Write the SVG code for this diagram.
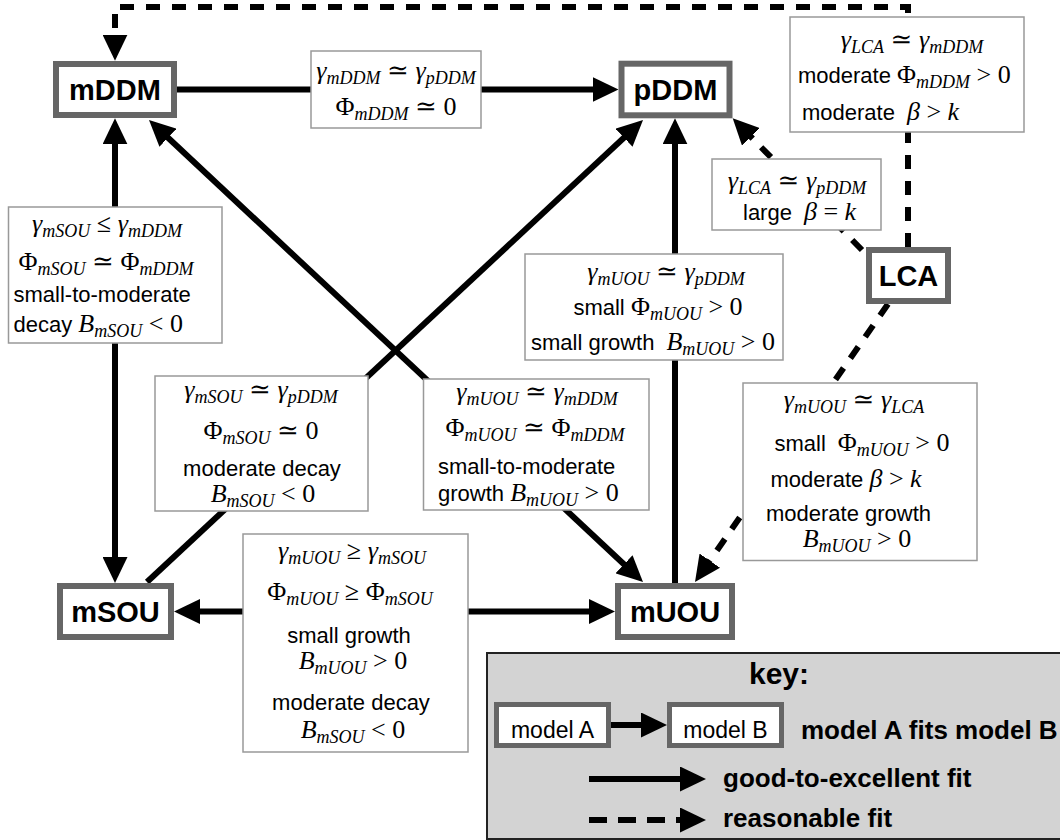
<svg xmlns="http://www.w3.org/2000/svg" width="1060" height="840" viewBox="0 0 1060 840">
<style>
.node rect{fill:#fff;stroke:#666;stroke-width:6}
.node text{font-family:"Liberation Sans",Arial,sans-serif;font-weight:bold;font-size:29px;text-anchor:middle;fill:#000}
.lbl rect{fill:#fff;stroke:#999;stroke-width:1.5}
.lbl text{fill:#000}
.m{font-family:"Liberation Serif","DejaVu Serif",serif;font-size:26px}
.c{text-anchor:middle}
.i{font-style:italic}
.s{font-style:italic;font-size:18px}
.t{font-family:"Liberation Sans",Arial,sans-serif;font-size:22px;font-style:normal}
.conn path{fill:none;stroke:#000;stroke-width:6}
.conn .d{stroke-dasharray:14 12}
.key rect.bg{fill:#d3d3d3;stroke:#222;stroke-width:2}
.key rect.kn{fill:#fff;stroke:#666;stroke-width:5}
.key text{font-family:"Liberation Sans",Arial,sans-serif;fill:#000}
.key path{fill:none;stroke:#000;stroke-width:6}
</style>
<defs>
<marker id="ah" markerUnits="userSpaceOnUse" markerWidth="26" markerHeight="25" refX="16" refY="12.5" orient="auto-start-reverse">
<path d="M0,0 L26,12.5 L0,25 Z" fill="#000"/>
</marker>
</defs>

<g id="connectors" class="conn">
<path d="M177,89.5 H608.5" marker-end="url(#ah)"/>
<path d="M115,128.3 V573" marker-start="url(#ah)" marker-end="url(#ah)"/>
<path d="M184,611.5 H605" marker-start="url(#ah)" marker-end="url(#ah)"/>
<path d="M156.3,126.8 L635.7,575.2" marker-start="url(#ah)" marker-end="url(#ah)"/>
<path d="M147,582 L635.7,126.8" marker-end="url(#ah)"/>
<path d="M675,583 V128.3" marker-end="url(#ah)"/>
<path class="d" d="M862,250 L739.7,125.4" marker-end="url(#ah)"/>
<path class="d" d="M888,304 L700.7,573.8" marker-end="url(#ah)"/>
<path class="d" d="M908,247 V7 H115 V50.7" marker-end="url(#ah)"/>
</g>

<g id="label-mDDM-pDDM" class="lbl">
<rect x="311" y="51" width="170" height="77"/>
<text class="m c" x="396" y="79"><tspan class="i">γ</tspan><tspan class="s" dy="5">mDDM</tspan><tspan dy="-5"> ≃ </tspan><tspan class="i">γ</tspan><tspan class="s" dy="5">pDDM</tspan></text>
<text class="m c" x="396" y="115">Φ<tspan class="s" dy="5">mDDM</tspan><tspan dy="-5"> ≃ 0</tspan></text>
</g>

<g id="label-LCA-mDDM" class="lbl">
<rect x="790" y="17" width="234" height="115"/>
<text class="m c" x="912" y="48"><tspan class="i">γ</tspan><tspan class="s" dy="5">LCA</tspan><tspan dy="-5"> ≃ </tspan><tspan class="i">γ</tspan><tspan class="s" dy="5">mDDM</tspan></text>
<text class="m" x="798" y="83"><tspan class="t">moderate </tspan>Φ<tspan class="s" dy="5">mDDM</tspan><tspan dy="-5"> &gt; 0</tspan></text>
<text class="m" x="802" y="120"><tspan class="t">moderate</tspan><tspan class="i" dx="12">β</tspan> &gt; <tspan class="i">k</tspan></text>
</g>

<g id="label-LCA-pDDM" class="lbl">
<rect x="712" y="159" width="169" height="71"/>
<text class="m c" x="797" y="189"><tspan class="i">γ</tspan><tspan class="s" dy="5">LCA</tspan><tspan dy="-5"> ≃ </tspan><tspan class="i">γ</tspan><tspan class="s" dy="5">pDDM</tspan></text>
<text class="m" x="743" y="220"><tspan class="t">large</tspan><tspan class="i" dx="12">β</tspan> = <tspan class="i">k</tspan></text>
</g>

<g id="label-mSOU-mDDM" class="lbl">
<rect x="8.5" y="207" width="213.5" height="136"/>
<text class="m c" x="107" y="232"><tspan class="i">γ</tspan><tspan class="s" dy="5">mSOU</tspan><tspan dy="-5"> ≤ </tspan><tspan class="i">γ</tspan><tspan class="s" dy="5">mDDM</tspan></text>
<text class="m c" x="106" y="270">Φ<tspan class="s" dy="5">mSOU</tspan><tspan dy="-5"> ≃ Φ</tspan><tspan class="s" dy="5">mDDM</tspan></text>
<text class="t" x="13.5" y="302">small-to-moderate</text>
<text class="m" x="13.5" y="332"><tspan class="t">decay </tspan><tspan class="i">B</tspan><tspan class="s" dy="5">mSOU</tspan><tspan dy="-5"> &lt; 0</tspan></text>
</g>

<g id="label-mUOU-pDDM" class="lbl">
<rect x="525" y="254" width="258" height="106"/>
<text class="m c" x="666" y="280"><tspan class="i">γ</tspan><tspan class="s" dy="5">mUOU</tspan><tspan dy="-5"> ≃ </tspan><tspan class="i">γ</tspan><tspan class="s" dy="5">pDDM</tspan></text>
<text class="m c" x="658" y="315"><tspan class="t">small </tspan>Φ<tspan class="s" dy="5">mUOU</tspan><tspan dy="-5"> &gt; 0</tspan></text>
<text class="m c" x="653" y="350"><tspan class="t">small growth</tspan><tspan class="i" dx="12">B</tspan><tspan class="s" dy="5">mUOU</tspan><tspan dy="-5"> &gt; 0</tspan></text>
</g>

<g id="label-mSOU-pDDM" class="lbl">
<rect x="155" y="376" width="213" height="135"/>
<text class="m c" x="261" y="398"><tspan class="i">γ</tspan><tspan class="s" dy="5">mSOU</tspan><tspan dy="-5"> ≃ </tspan><tspan class="i">γ</tspan><tspan class="s" dy="5">pDDM</tspan></text>
<text class="m c" x="261" y="439">Φ<tspan class="s" dy="5">mSOU</tspan><tspan dy="-5"> ≃ 0</tspan></text>
<text class="t c" x="262" y="476">moderate decay</text>
<text class="m c" x="263" y="502"><tspan class="i">B</tspan><tspan class="s" dy="5">mSOU</tspan><tspan dy="-5"> &lt; 0</tspan></text>
</g>

<g id="label-mUOU-mDDM" class="lbl">
<rect x="423.5" y="379" width="225.5" height="131"/>
<text class="m c" x="537" y="400"><tspan class="i">γ</tspan><tspan class="s" dy="5">mUOU</tspan><tspan dy="-5"> ≃ </tspan><tspan class="i">γ</tspan><tspan class="s" dy="5">mDDM</tspan></text>
<text class="m c" x="535" y="436">Φ<tspan class="s" dy="5">mUOU</tspan><tspan dy="-5"> ≃ Φ</tspan><tspan class="s" dy="5">mDDM</tspan></text>
<text class="t" x="438" y="474">small-to-moderate</text>
<text class="m" x="438" y="501"><tspan class="t">growth </tspan><tspan class="i">B</tspan><tspan class="s" dy="5">mUOU</tspan><tspan dy="-5"> &gt; 0</tspan></text>
</g>

<g id="label-mUOU-LCA" class="lbl">
<rect x="743" y="383" width="234" height="177.5"/>
<text class="m c" x="854" y="408"><tspan class="i">γ</tspan><tspan class="s" dy="5">mUOU</tspan><tspan dy="-5"> ≃ </tspan><tspan class="i">γ</tspan><tspan class="s" dy="5">LCA</tspan></text>
<text class="m c" x="862" y="451"><tspan class="t">small</tspan><tspan dx="12">Φ</tspan><tspan class="s" dy="5">mUOU</tspan><tspan dy="-5"> &gt; 0</tspan></text>
<text class="m c" x="846" y="487"><tspan class="t">moderate </tspan><tspan class="i">β</tspan> &gt; <tspan class="i">k</tspan></text>
<text class="t" x="766" y="521">moderate growth</text>
<text class="m c" x="857" y="547"><tspan class="i">B</tspan><tspan class="s" dy="5">mUOU</tspan><tspan dy="-5"> &gt; 0</tspan></text>
</g>

<g id="label-mSOU-mUOU" class="lbl">
<rect x="243" y="534" width="225" height="218"/>
<text class="m c" x="352" y="559"><tspan class="i">γ</tspan><tspan class="s" dy="5">mUOU</tspan><tspan dy="-5"> ≥ </tspan><tspan class="i">γ</tspan><tspan class="s" dy="5">mSOU</tspan></text>
<text class="m c" x="350" y="600">Φ<tspan class="s" dy="5">mUOU</tspan><tspan dy="-5"> ≥ Φ</tspan><tspan class="s" dy="5">mSOU</tspan></text>
<text class="t c" x="349" y="643">small growth</text>
<text class="m c" x="353" y="669"><tspan class="i">B</tspan><tspan class="s" dy="5">mUOU</tspan><tspan dy="-5"> &gt; 0</tspan></text>
<text class="t c" x="351" y="710">moderate decay</text>
<text class="m c" x="353" y="738"><tspan class="i">B</tspan><tspan class="s" dy="5">mSOU</tspan><tspan dy="-5"> &lt; 0</tspan></text>
</g>

<g id="node-mDDM" class="node"><rect x="56" y="64" width="118" height="51"/><text x="115" y="100">mDDM</text></g>
<g id="node-pDDM" class="node"><rect x="621.5" y="63.7" width="108" height="51.6"/><text x="675.5" y="100">pDDM</text></g>
<g id="node-LCA" class="node"><rect x="869" y="250" width="79" height="51"/><text x="908.5" y="286">LCA</text></g>
<g id="node-mSOU" class="node"><rect x="60" y="586" width="111" height="51"/><text x="115.5" y="622">mSOU</text></g>
<g id="node-mUOU" class="node"><rect x="618" y="586" width="114" height="51"/><text x="675" y="622">mUOU</text></g>

<g id="key" class="key">
<rect class="bg" x="487" y="653" width="575" height="186"/>
<text x="779" y="684" font-size="30" font-weight="bold" text-anchor="middle">key:</text>
<rect class="kn" x="496.5" y="704.5" width="112" height="41"/>
<text x="552.5" y="738" font-size="23" text-anchor="middle">model A</text>
<path d="M611,725 H657" marker-end="url(#ah)"/>
<rect class="kn" x="669.5" y="704.5" width="112" height="41"/>
<text x="725.5" y="738" font-size="23" text-anchor="middle">model B</text>
<text x="801" y="739" font-size="26" font-weight="bold">model A fits model B</text>
<path d="M589,779 H696" marker-end="url(#ah)"/>
<text x="723" y="787" font-size="26" font-weight="bold">good-to-excellent fit</text>
<path d="M589,820 H696" stroke-dasharray="18 11" marker-end="url(#ah)"/>
<text x="723" y="827" font-size="26" font-weight="bold">reasonable fit</text>
</g>
</svg>
